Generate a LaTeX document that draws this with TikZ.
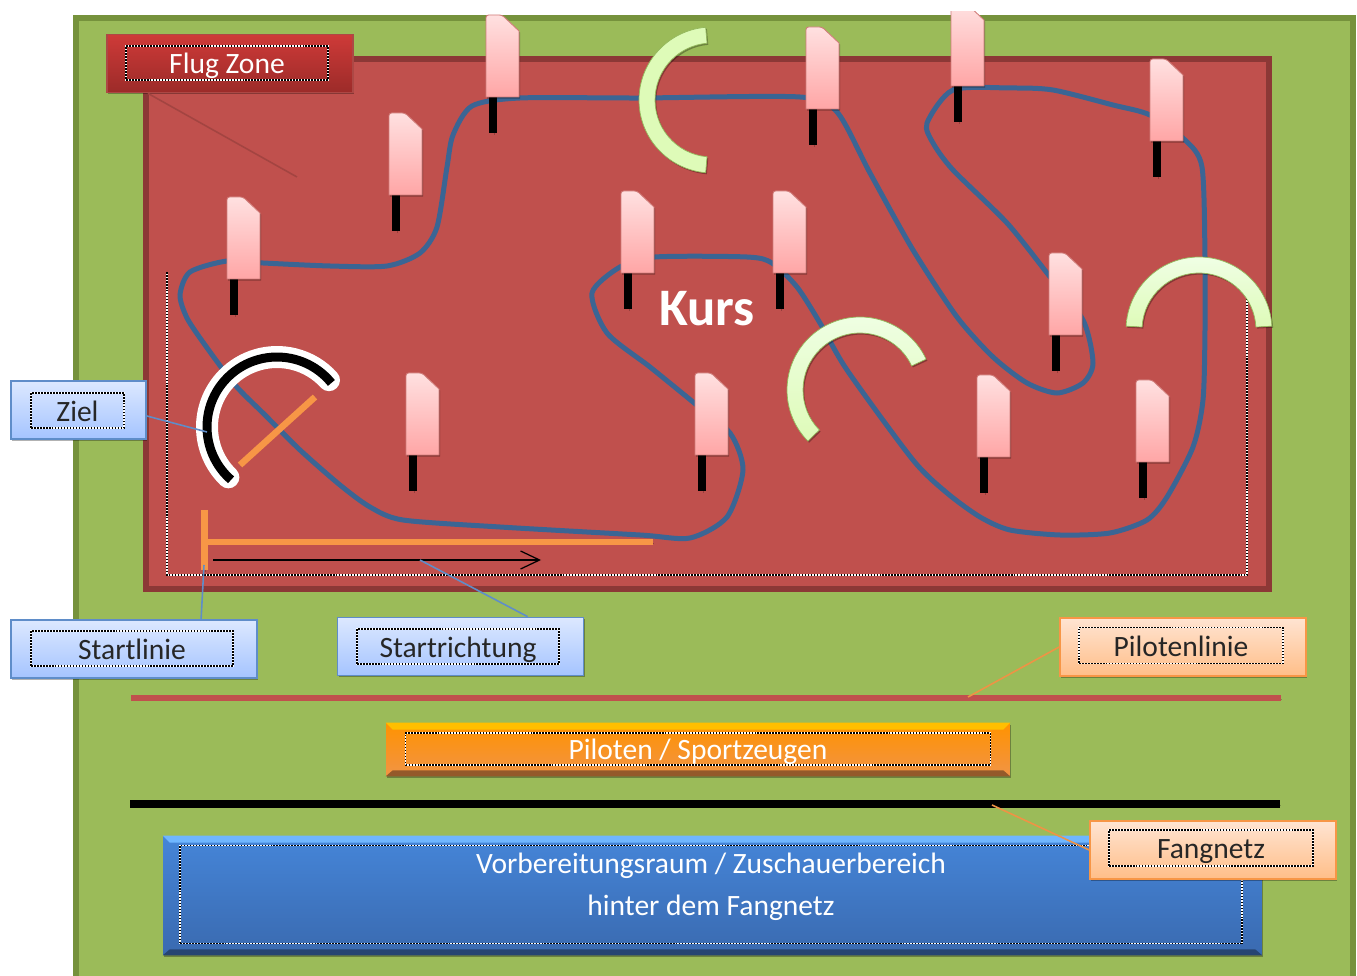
\documentclass[tikz,border=0pt]{standalone}
\usepackage{fontspec}
\setmainfont{Carlito}
\usetikzlibrary{shadows,arrows.meta}

\definecolor{feldgruen}{HTML}{9BBB59}
\definecolor{feldrand}{HTML}{76923C}
\definecolor{zonerot}{HTML}{C0504D}
\definecolor{zonerand}{HTML}{8C3836}
\definecolor{kursblau}{HTML}{3B6594}
\definecolor{startorange}{HTML}{F79646}
\definecolor{gatehell}{HTML}{F0FFE6}
\definecolor{gategruen}{HTML}{DEFBB8}
\definecolor{gaterand}{HTML}{93B85C}
\definecolor{blauoben}{HTML}{DCE8FF}
\definecolor{blauunten}{HTML}{A5C4FF}
\definecolor{blaurand}{HTML}{5F8DC9}
\definecolor{bandoben}{HTML}{4585D8}
\definecolor{bandunten}{HTML}{3A6AB0}
\definecolor{bandhell}{HTML}{6FB6FF}
\definecolor{pfirsichoben}{HTML}{FFE4D2}
\definecolor{pfirsichunten}{HTML}{FFBE88}
\definecolor{rotoben}{HTML}{CE3A38}
\definecolor{rotunten}{HTML}{9C2B29}

\tikzset{
    softshadow/.style={drop shadow={shadow xshift=.7pt,shadow yshift=-.9pt,opacity=.3,fill=black}},
    lineshadow/.style={preaction={draw=black,opacity=.22,transform canvas={xshift=.7pt,yshift=-.9pt}}},
    dotbox/.style={draw=white,line width=.8pt,inner sep=0pt,outer sep=0pt,
        postaction={draw=black,line width=.8pt,dash pattern=on .9pt off .8pt}},
    darktext/.style={text=black!85,font=\fontsize{16.8}{20}\selectfont,text height=13.2pt,text depth=1pt},
    whitetext/.style={text=white,font=\fontsize{16.8}{20}\selectfont,text height=13.2pt,text depth=1pt},
    outerbox/.style={minimum width=4.92cm,minimum height=1.16cm,line width=1pt,inner sep=0pt,softshadow},
    bluebox/.style={outerbox,draw=blaurand,top color=blauoben,bottom color=blauunten},
    peachbox/.style={outerbox,draw=startorange,top color=pfirsichoben,bottom color=pfirsichunten},
    redbox/.style={outerbox,draw=zonerot!90!black,top color=rotoben,bottom color=rotunten},
    bluelead/.style={draw=blaurand,line width=.9pt},
    orangelead/.style={draw=startorange!85!brown,line width=.9pt},
    redlead/.style={draw=zonerot!85!black,line width=.9pt},
    kursline/.style={draw=kursblau,line width=.1cm},
    startbar/.style={draw=startorange,line width=.13cm,lineshadow},
    gatearc/.style={draw=gaterand,line width=.4pt,softshadow},
    flagbody/.style={draw=zonerot!75!white,line width=.5pt,top color=red!12!white,bottom color=red!35!white,softshadow},
}

% Gate: center x, center y, start angle, end angle, colours
\newcommand{\gate}[5]{
    \path[gatearc,#5] ([shift={(#3:1.46cm)}]#1,#2) arc[start angle=#3,end angle=#4,radius=1.46cm]
        -- ([shift={(#4:1.14cm)}]#1,#2) arc[start angle=#4,end angle=#3,radius=1.14cm] -- cycle;
}
% Flag: left x, top y
\newcommand{\flag}[2]{
    \draw[line width=.16cm,lineshadow] (#1+7,#2+82) -- (#1+7,#2+118);
    \path[flagbody,rounded corners=1.5pt] (#1,#2+82) -- (#1,#2) -- (#1+16,#2) [sharp corners] -- (#1+33,#2+16) -- (#1+33,#2+82) -- cycle;
}
% Bevel strips of a node: name, top colour, bottom colour
\newcommand{\bevel}[3]{
    \fill[#2] (#1.north west) -- (#1.north east) -- ([xshift=-.14cm,yshift=-.14cm]#1.north east) -- ([xshift=.14cm,yshift=-.14cm]#1.north west) -- cycle;
    \fill[#3] (#1.south west) -- (#1.south east) -- ([xshift=-.14cm,yshift=.12cm]#1.south east) -- ([xshift=.14cm,yshift=.12cm]#1.south west) -- cycle;
}

\begin{document}
\begin{tikzpicture}[x=.02cm,y=-.02cm]

    \clip (0,0) rectangle (1357,976);

    % Field and flying zone
    \fill[white] (0,0) rectangle (1357,976);
    \draw[draw=feldrand,fill=feldgruen,line width=.12cm] (76,18) rectangle (1353,1000);
    \draw[draw=zonerand,fill=zonerot,line width=.11cm] (146,59) rectangle (1269,589);

    % Dotted border of the course area
    \path[dotbox] (167,272) -- (167,575) -- (1247,575) -- (1247,298);

    % Course
    \draw[kursline] plot[smooth cycle,tension=.45] coordinates {
        (403,520) (370,507) (340,485) (300,450) (265,415) (235,385) (205,345) (187,318) (180,295)
        (190,272) (227,261) (263,263) (330,266) (387,266) (420,253) (437,227) (447,167) (453,135) (472,106)
        (520,98) (640,98) (800,97) (837,112) (870,173) (913,250) (957,317) (993,357) (1027,383)
        (1057,393) (1083,383) (1093,363) (1083,320) (1047,273) (1007,223) (953,170) (933,143) (927,123)
        (953,90) (1010,88) (1053,90) (1113,105) (1150,115) (1185,140) (1202,167) (1205,257) (1205,330)
        (1203,400) (1193,447) (1167,497) (1147,520) (1110,533) (1060,535) (1010,530) (980,517) (947,493)
        (913,460) (847,370) (820,323) (797,287) (772,263) (747,257) (655,257) (620,267) (592,293)
        (607,333) (650,367) (693,402) (730,433) (743,470) (727,517) (690,538) (640,535) (500,527)
    };

    % Flags
    \foreach \fx/\fy in {227/197,389/113,486/15,806/27,1150/59,1049/253,621/191,773/191,406/373,695/373,977/375,1136/380} {
        \flag{\fx}{\fy}
    }
    \begin{scope}
        \clip (900,12) rectangle (1020,140);
        \flag{951}{4}
    \end{scope}

    % Gates
    \gate{712}{100}{95}{265}{top color=gategruen,middle color=gatehell,bottom color=gategruen}
    \gate{860}{390}{25}{224.5}{top color=gatehell,bottom color=gategruen}
    \gate{1199}{330}{3}{177}{top color=gatehell,bottom color=gategruen}

    % Finish gate
    \coordinate (zielMitte) at (277,427);
    \draw[white,line width=.44cm,line cap=round,lineshadow] ([shift={(226:1.4cm)}]zielMitte) arc[start angle=226,end angle=42,radius=1.4cm];
    \draw[black,line width=.18cm] ([shift={(229:1.4cm)}]zielMitte) arc[start angle=229,end angle=39,radius=1.4cm];
    \coordinate (zielA) at (240,465);
    \coordinate (zielB) at (315,397);
    \draw[startbar] (zielA) -- (zielB);

    % Start line and direction
    \coordinate (startOben) at (204,510);
    \coordinate (startUnten) at (204,570);
    \coordinate (startMitte) at (204,542);
    \coordinate (startEnde) at (653,542);
    \coordinate (pfeilA) at (213,560);
    \coordinate (pfeilB) at (541,560);
    \draw[startbar,line width=.14cm] (startOben) -- (startUnten);
    \draw[startbar] (startMitte) -- (startEnde);
    \draw[black,line width=.7pt,-{Straight Barb[length=.38cm,width=.36cm]}] (pfeilA) -- (pfeilB);

    % Pilot line and safety net
    \coordinate (linieA) at (131,698);
    \coordinate (linieB) at (1281,698);
    \coordinate (netzA) at (130,804);
    \coordinate (netzB) at (1280,804);
    \draw[draw=zonerot,line width=.12cm,lineshadow] (linieA) -- (linieB);
    \draw[black,line width=.16cm,lineshadow] (netzA) -- (netzB);

    % Bands
    \node[minimum width=12.48cm,minimum height=1.06cm,inner sep=0pt,top color=orange!85!yellow,bottom color=startorange!90!brown,softshadow] (pilotenBox) at (698,749.5) {};
    \bevel{pilotenBox}{orange!50!yellow}{startorange!60!black}
    \node[dotbox,minimum width=11.7cm,minimum height=.64cm,whitetext] (piloten) at (698,749) {Piloten / Sportzeugen};

    \node[minimum width=21.98cm,minimum height=2.38cm,inner sep=0pt,top color=bandoben,bottom color=bandunten,softshadow] (vorbereitungBox) at (712.5,895.5) {};
    \bevel{vorbereitungBox}{bandhell}{bandunten!65!black}
    \node[dotbox,minimum width=21.24cm,minimum height=1.96cm] (vorbereitungRand) at (711,894.5) {};
    \node[text=white,align=center,font=\fontsize{16.8}{23.6}\selectfont] (vorbereitung) at (711,887) {Vorbereitungsraum / Zuschauerbereich\\hinter dem Fangnetz};

    % Leader ends
    \coordinate (flugEnde) at (297,177);
    \coordinate (zielEnde) at (207,432);
    \coordinate (startlinieEnde) at (204,565);
    \coordinate (richtungEnde) at (420,560);
    \coordinate (pilotenEnde) at (968,697);
    \coordinate (netzEnde) at (992,805);

    % Labels
    \node[redbox] (flugBox) at (230,63.5) {};
    \node[dotbox,minimum width=4.04cm,minimum height=.68cm,whitetext] (flug) at (227,63) {Flug Zone};
    \node[bluebox,minimum width=2.7cm] (zielBox) at (78.5,410) {};
    \node[dotbox,minimum width=1.86cm,minimum height=.7cm,darktext] (ziel) at (77.5,410.5) {Ziel};
    \node[bluebox] (startlinieBox) at (134,649) {};
    \node[dotbox,minimum width=4.04cm,minimum height=.7cm,darktext] (startlinie) at (132,648.5) {Startlinie};
    \node[bluebox] (richtungBox) at (460.5,646.5) {};
    \node[dotbox,minimum width=4.04cm,minimum height=.7cm,darktext] (richtung) at (458,646.5) {Startrichtung};
    \node[peachbox] (pilotenlinieBox) at (1183,647) {};
    \node[dotbox,minimum width=4.08cm,minimum height=.72cm,darktext] (pilotenlinie) at (1181,645.5) {Pilotenlinie};
    \node[peachbox] (fangnetzBox) at (1213,850) {};
    \node[dotbox,minimum width=4.08cm,minimum height=.72cm,darktext] (fangnetz) at (1211,848) {Fangnetz};

    % Leader lines
    \draw[redlead] (flugBox.200) -- (flugEnde);
    \draw[bluelead] (zielBox.-5) -- (zielEnde);
    \draw[bluelead] (startlinieBox.24) -- (startlinieEnde);
    \draw[bluelead] (richtungBox.24.6) -- (richtungEnde);
    \draw[orangelead] (pilotenlinieBox.west) -- (pilotenEnde);
    \draw[orangelead] (fangnetzBox.west) -- (netzEnde);

    % Course title
    \node[text=white,font=\fontsize{30}{34}\selectfont\bfseries] (kurs) at (707,309) {Kurs};

\end{tikzpicture}
\end{document}
